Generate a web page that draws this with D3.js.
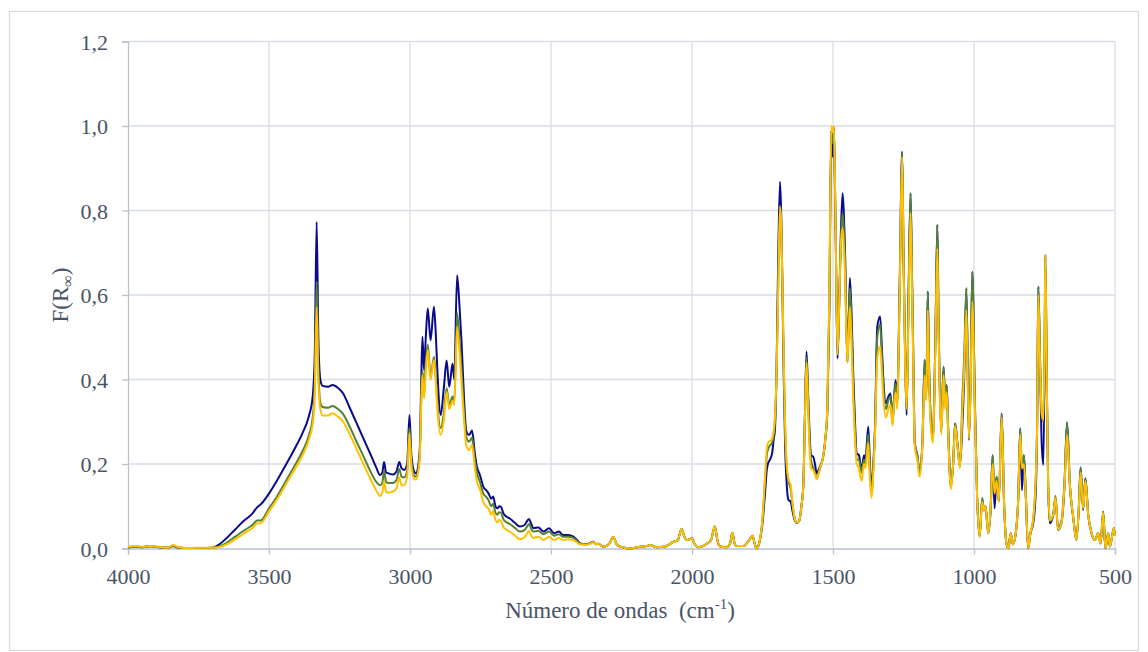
<!DOCTYPE html>
<html lang="es">
<head>
<meta charset="utf-8">
<title>F(R∞) vs número de ondas</title>
<script src="https://d3js.org/d3.v7.min.js"></script>
<style>
  body { margin: 0; background: #fff; font-family: "Liberation Serif", "Times New Roman", serif; }
  .grid line { stroke: #d9dde6; stroke-width: 1.3; }
  .axis path, .axis line { stroke: #b8c1d1; stroke-width: 1.3; }
  .axis text { fill: #4a5466; font-family: "Liberation Serif", serif; font-size: 22px; }
  .title { fill: #4a5466; font-size: 23px; }
</style>
</head>
<body>
<svg id="chart" width="1148" height="652"></svg>
<script>
// ---------------- data ----------------
var wavenumber = [
  4000,3975,3950,3920,3890,3860,3840,3820,3780,3740,3700,3680,3650,3620,3590,3560,3540,3530,3500,3470,
  3440,3410,3380,3360,3345,3338,3331,3325,3318,3310,3290,3275,3255,3237,3215,3189,3165,3142,3120,3106,
  3098,3092,3085,3077,3060,3048,3038,3030,3021,3010,3002,2995,2985,2979,2970,2965,2960,2956,2950,2944,
  2937,2927,2915,2908,2903,2891,2880,2870,2861,2849,2843,2833,2825,2817,2808,2801,2795,2790,2780,2770,
  2763,2752,2740,2730,2722,2712,2705,2697,2690,2684,2678,2668,2657,2646,2630,2610,2595,2585,2578,2570,
  2563,2545,2527,2507,2489,2472,2457,2439,2421,2405,2397,2375,2362,2350,2340,2332,2315,2295,2279,2265,
  2240,2220,2184,2160,2149,2125,2100,2080,2066,2051,2037,2027,2019,2008,2001,1990,1978,1960,1949,1933,
  1919,1910,1903,1877,1865,1857,1849,1842,1818,1797,1785,1778,1771,1762,1750,1741,1735,1730,1722,1716,
  1710,1706,1700,1694,1688,1684,1680,1675,1670,1664,1658,1650,1644,1637,1629,1620,1612,1605,1600,1594,
  1589,1584,1578,1570,1564,1558,1552,1546,1535,1527,1520,1513,1506,1501,1497,1493,1490,1484,1478,1472,
  1466,1462,1458,1449,1444,1440,1434,1428,1422,1416,1408,1399,1390,1385,1375,1369,1363,1357,1351,1343,
  1333,1327,1322,1312,1304,1296,1289,1284,1278,1272,1268,1263,1255,1250,1244,1239,1232,1225,1220,1216,
  1210,1201,1193,1183,1175,1172,1169,1164,1160,1155,1146,1137,1130,1126,1122,1116,1108,1102,1097,1092,
  1082,1074,1067,1059,1050,1041,1035,1027,1018,1012,1006,997,989,980,971,965,959,950,941,934,
  927,920,912,902,893,885,878,870,862,852,843,836,830,823,816,808,800,790,782,776,
  772,766,760,754,749,747,742,737,731,719,711,702,690,679,670,660,648,637,628,622,
  613,605,595,583,571,560,551,542,534,524,518,504,500
];

var serieAzul = [
  .003,.005,.003,.006,.003,.002,.006,.002,.001,.001,.002,.008,.025,.045,.065,.082,.099,.104,.13,.163,
  .198,.235,.275,.31,.36,.45,.773,.5,.4,.385,.383,.387,.38,.367,.335,.296,.26,.226,.192,.174,
  .18,.205,.18,.178,.175,.182,.205,.19,.186,.2,.316,.22,.182,.178,.2,.24,.4,.501,.422,.5,
  .568,.493,.572,.5,.422,.316,.38,.445,.383,.438,.4,.647,.58,.486,.35,.28,.27,.269,.279,.225,
  .194,.174,.146,.138,.131,.118,.123,.1,.095,.1,.099,.082,.075,.071,.062,.052,.055,.065,.07,.058,
  .048,.05,.04,.048,.036,.04,.032,.032,.028,.018,.012,.01,.012,.016,.01,.011,.004,.01,.027,.008,
  .002,0,.004,.006,.008,.003,.004,.01,.016,.019,.046,.028,.02,.022,.024,.01,.003,.006,.011,.019,
  .052,.02,.006,.003,.012,.037,.012,.006,.006,.02,.03,.012,0,.012,.06,.131,.185,.202,.212,.225,
  .26,.28,.43,.7,.868,.8,.643,.42,.249,.15,.115,.111,.09,.07,.061,.065,.1,.154,.3,.466,
  .38,.288,.221,.217,.2,.178,.185,.194,.217,.26,.328,.564,.99,.927,.998,.85,.722,.45,.58,.75,
  .841,.8,.722,.442,.55,.64,.55,.407,.3,.225,.221,.186,.221,.21,.288,.2,.138,.2,.288,.525,
  .549,.48,.407,.344,.359,.367,.296,.35,.399,.344,.45,.643,.939,.7,.45,.316,.6,.841,.65,.486,
  .249,.221,.182,.249,.446,.38,.359,.608,.45,.328,.261,.49,.766,.55,.4,.276,.43,.344,.387,.29,
  .146,.2,.296,.249,.194,.297,.4,.616,.257,.4,.655,.35,.123,.028,.115,.09,.1,.036,.09,.221,
  .095,.17,.111,.32,.1,.012,0,.036,.01,.036,.12,.284,.138,.221,.12,0,.036,.06,.12,.3,
  .62,.45,.25,.198,.5,.695,.4,.15,.06,.08,.119,.044,.06,.15,.298,.15,.073,.02,.1,.192,
  .091,.166,.08,.036,.02,.036,.012,.087,0,.036,.005,.048,.03
];

var serieVerde = [
  .002,.004,.003,.005,.003,.002,.006,.002,.001,.001,.002,.004,.014,.028,.042,.055,.067,.066,.095,.125,
  .16,.195,.232,.265,.31,.38,.632,.43,.345,.335,.333,.337,.33,.318,.29,.252,.218,.185,.158,.15,
  .155,.185,.158,.155,.155,.162,.188,.17,.168,.185,.285,.205,.173,.17,.19,.23,.36,.42,.38,.44,
  .482,.407,.454,.4,.345,.285,.32,.379,.34,.36,.345,.557,.5,.42,.32,.265,.255,.253,.262,.21,
  .18,.158,.13,.122,.115,.1,.106,.085,.08,.086,.085,.068,.062,.058,.05,.04,.043,.052,.058,.046,
  .04,.042,.034,.04,.03,.034,.028,.028,.025,.016,.011,.01,.012,.016,.01,.011,.004,.01,.027,.008,
  .002,0,.004,.006,.008,.003,.004,.01,.016,.019,.046,.028,.02,.022,.024,.01,.003,.006,.011,.019,
  .052,.02,.006,.003,.012,.037,.012,.006,.006,.02,.03,.012,0,.012,.07,.16,.22,.235,.245,.25,
  .27,.3,.42,.64,.812,.78,.65,.45,.29,.19,.16,.14,.105,.075,.062,.065,.1,.154,.3,.452,
  .37,.27,.21,.19,.18,.165,.175,.19,.217,.26,.33,.58,.99,.96,.99,.86,.72,.46,.58,.73,
  .793,.76,.7,.44,.55,.616,.52,.38,.28,.21,.21,.18,.21,.2,.27,.18,.13,.19,.28,.5,
  .53,.46,.39,.33,.35,.36,.3,.35,.39,.345,.45,.64,.939,.7,.45,.33,.6,.841,.65,.48,
  .25,.22,.18,.25,.446,.38,.36,.608,.45,.33,.26,.49,.766,.55,.4,.28,.43,.34,.387,.29,
  .15,.2,.296,.25,.195,.359,.45,.616,.26,.4,.655,.35,.125,.03,.12,.095,.1,.04,.1,.221,
  .13,.17,.115,.32,.1,.012,0,.036,.01,.036,.12,.284,.19,.221,.12,0,.036,.07,.15,.3,
  .62,.45,.32,.3,.55,.69,.4,.15,.065,.08,.125,.05,.065,.16,.298,.15,.073,.02,.1,.192,
  .095,.166,.08,.036,.02,.036,.012,.087,0,.036,.005,.048,.03
];

var serieAmarilla = [
  .004,.006,.004,.006,.004,.002,.008,.003,.001,.002,.002,.003,.01,.022,.035,.048,.06,.06,.088,.118,
  .152,.186,.222,.255,.295,.36,.571,.4,.33,.315,.315,.32,.312,.3,.272,.235,.2,.167,.138,.124,
  .132,.16,.135,.132,.135,.142,.168,.15,.15,.17,.273,.195,.165,.163,.185,.22,.34,.41,.355,.42,
  .47,.4,.446,.39,.33,.269,.305,.371,.33,.35,.34,.525,.47,.39,.3,.245,.235,.233,.245,.19,
  .16,.14,.11,.1,.095,.08,.088,.068,.062,.068,.066,.05,.044,.04,.032,.022,.026,.036,.042,.03,
  .025,.028,.02,.028,.02,.025,.02,.022,.02,.013,.01,.009,.011,.015,.01,.011,.004,.01,.027,.008,
  .002,0,.004,.006,.008,.003,.004,.01,.016,.019,.046,.028,.02,.022,.024,.01,.003,.006,.011,.019,
  .052,.02,.006,.003,.012,.037,.012,.006,.006,.02,.03,.012,0,.012,.07,.17,.235,.25,.255,.26,
  .28,.31,.42,.62,.809,.77,.65,.46,.3,.2,.165,.15,.11,.075,.062,.065,.1,.15,.29,.44,
  .35,.25,.19,.185,.175,.165,.175,.19,.217,.26,.34,.6,1.0,.985,1.0,.87,.72,.46,.58,.72,
  .758,.72,.66,.44,.52,.572,.48,.35,.26,.2,.19,.16,.2,.19,.25,.16,.12,.18,.27,.45,
  .478,.42,.36,.31,.33,.34,.29,.34,.37,.33,.44,.62,.927,.69,.43,.33,.56,.794,.62,.46,
  .24,.21,.17,.245,.41,.37,.35,.564,.43,.31,.25,.47,.71,.52,.38,.27,.41,.33,.37,.28,
  .14,.2,.29,.245,.19,.33,.42,.564,.26,.38,.584,.33,.12,.028,.11,.09,.1,.036,.095,.2,
  .13,.16,.11,.31,.1,.012,0,.036,.01,.036,.12,.27,.19,.2,.12,0,.036,.07,.15,.3,
  .6,.44,.32,.304,.55,.695,.4,.15,.067,.08,.12,.045,.06,.15,.27,.15,.073,.02,.1,.18,
  .095,.16,.08,.036,.02,.036,.012,.085,0,.036,.005,.048,.03
];

var xTicks = [4000, 3500, 3000, 2500, 2000, 1500, 1000, 500];
var yTicks = [0, 0.2, 0.4, 0.6, 0.8, 1.0, 1.2];

var series = [
  { nombre: "muestra 1", valores: serieAzul, color: "#0a0a8c" },
  { nombre: "muestra 2", valores: serieVerde, color: "#548235" },
  { nombre: "muestra 3", valores: serieAmarilla, color: "#ffc000" }
];

// ---------------- chart ----------------
var svg = d3.select("#chart");
var plotLeft = 128, plotRight = 1115, plotTop = 41.5, plotBottom = 548.5;

// outer frame
svg.append("rect")
  .attr("x", 9.5).attr("y", 11.5).attr("width", 1129).attr("height", 639)
  .attr("fill", "none").attr("stroke", "#d9d9d9").attr("stroke-width", 1.2);

var x = d3.scaleLinear().domain([4000, 500]).range([plotLeft, plotRight]);
var y = d3.scaleLinear().domain([0, 1.2]).range([plotBottom, plotTop]);

// gridlines
var grid = svg.append("g").attr("class", "grid");
grid.selectAll("line.h").data(yTicks.filter(function (d) { return d > 0; }))
  .enter().append("line").attr("class", "h")
  .attr("x1", plotLeft).attr("x2", plotRight)
  .attr("y1", function (d) { return y(d); }).attr("y2", function (d) { return y(d); });
grid.selectAll("line.v").data(xTicks.slice(1))
  .enter().append("line").attr("class", "v")
  .attr("y1", plotTop).attr("y2", plotBottom)
  .attr("x1", function (d) { return x(d); }).attr("x2", function (d) { return x(d); });

var fmt = function (d) { return d3.format(".1f")(d).replace(".", ","); };

svg.append("g").attr("class", "axis")
  .attr("transform", "translate(" + plotLeft + ",0)")
  .call(d3.axisLeft(y).tickValues(yTicks).tickFormat(fmt).tickSize(6).tickPadding(14))
  .call(function (g) { g.selectAll("text").attr("dy", "0.35em"); });

svg.append("g").attr("class", "axis")
  .attr("transform", "translate(0," + plotBottom + ")")
  .call(d3.axisBottom(x).tickValues(xTicks).tickFormat(d3.format("d")).tickSize(6).tickPadding(14));

// lines
var line = d3.line()
  .x(function (d) { return x(d[0]); })
  .y(function (d) { return y(d[1]); })
  .curve(d3.curveMonotoneX);

series.forEach(function (s) {
  var pts = wavenumber.map(function (w, i) { return [w, s.valores[i]]; });
  svg.append("path")
    .datum(pts)
    .attr("fill", "none")
    .attr("stroke", s.color)
    .attr("stroke-width", 2)
    .attr("stroke-linejoin", "round")
    .attr("d", line);
});

// axis titles
var xt = svg.append("text").attr("class", "title")
  .attr("x", 620).attr("y", 618).attr("text-anchor", "middle");
xt.append("tspan").text("Número de ondas\u00a0 (cm");
xt.append("tspan").attr("dy", -9).attr("font-size", 15).text("-1");
xt.append("tspan").attr("dy", 9).text(")");

var yt = svg.append("text").attr("class", "title")
  .attr("transform", "translate(68," + ((plotTop + plotBottom) / 2) + ") rotate(-90)")
  .attr("text-anchor", "middle");
yt.append("tspan").text("F(R");
yt.append("tspan").attr("dy", 5).attr("font-size", 16).text("∞");
yt.append("tspan").attr("dy", -5).text(")");
</script>
</body>
</html>
